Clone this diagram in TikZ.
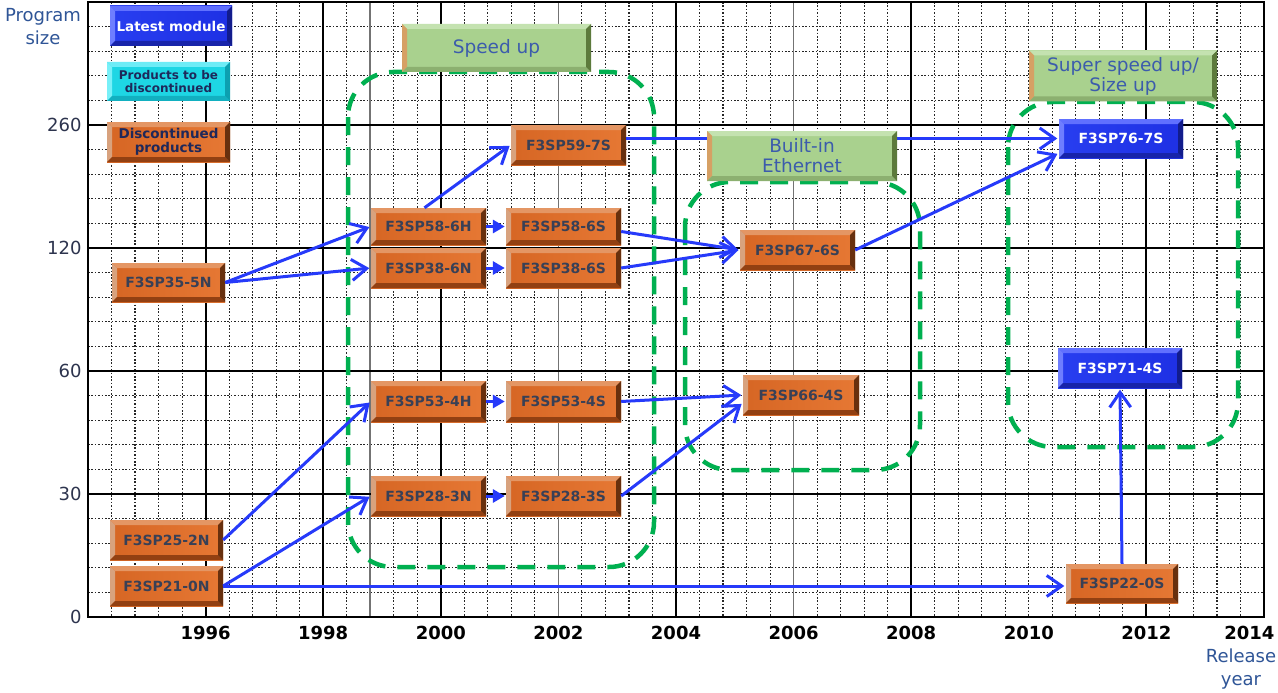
\documentclass[tikz,border=0pt]{standalone}
\usepackage{fontspec}
\setmainfont{DejaVu Sans}
\usetikzlibrary{arrows.meta}
\definecolor{arrowblue}{RGB}{38,58,250}
\definecolor{dashgreen}{RGB}{0,176,80}
\definecolor{boxtext}{RGB}{56,64,86}
\definecolor{axistext}{RGB}{47,85,151}
\definecolor{ticktext}{RGB}{45,52,78}
\definecolor{orA}{RGB}{214,102,36}
\definecolor{orB}{RGB}{246,164,104}
\definecolor{orC}{RGB}{230,120,52}
\definecolor{orTop}{RGB}{228,150,100}
\definecolor{orLeft}{RGB}{216,162,126}
\definecolor{orBot}{RGB}{146,64,18}
\definecolor{orRight}{RGB}{104,48,14}
\definecolor{blA}{RGB}{30,48,228}
\definecolor{blB}{RGB}{40,62,240}
\definecolor{blTop}{RGB}{96,112,255}
\definecolor{blLeft}{RGB}{110,126,255}
\definecolor{blBot}{RGB}{24,36,170}
\definecolor{blRight}{RGB}{18,28,140}
\definecolor{cyA}{RGB}{30,214,228}
\definecolor{cyTop}{RGB}{110,236,246}
\definecolor{cyLeft}{RGB}{120,240,248}
\definecolor{cyBot}{RGB}{18,176,192}
\definecolor{cyRight}{RGB}{12,160,176}
\definecolor{grA}{RGB}{169,209,142}
\definecolor{grTop}{RGB}{196,226,176}
\definecolor{grLeft}{RGB}{214,160,100}
\definecolor{grBot}{RGB}{140,176,112}
\definecolor{grRight}{RGB}{92,122,60}
\definecolor{gltext}{RGB}{60,92,172}
\definecolor{legtext}{RGB}{30,40,90}
\newcommand\bevelfour[4]{%
  \fill[#1] (path picture bounding box.north west) -- (path picture bounding box.north east) -- ([xshift=-5pt,yshift=-5pt]path picture bounding box.north east) -- ([xshift=5pt,yshift=-5pt]path picture bounding box.north west) -- cycle;
  \fill[#2] (path picture bounding box.north west) -- ([xshift=5pt,yshift=-5pt]path picture bounding box.north west) -- ([xshift=5pt,yshift=5pt]path picture bounding box.south west) -- (path picture bounding box.south west) -- cycle;
  \fill[#3] (path picture bounding box.south west) -- ([xshift=5pt,yshift=5pt]path picture bounding box.south west) -- ([xshift=-5pt,yshift=5pt]path picture bounding box.south east) -- (path picture bounding box.south east) -- cycle;
  \fill[#4] (path picture bounding box.south east) -- ([xshift=-5pt,yshift=5pt]path picture bounding box.south east) -- ([xshift=-5pt,yshift=-5pt]path picture bounding box.north east) -- (path picture bounding box.north east) -- cycle;
}
\tikzset{
  minorgrid/.style={draw=black!85, line width=1.1pt, dash pattern=on 1.6pt off 1.8pt},
  majorgrid/.style={draw=black, line width=2pt},
  graygrid/.style={draw=black!55, line width=1.6pt},
  basebox/.style={rectangle, inner sep=0pt, minimum width=115pt, minimum height=40pt},
  obox/.style={basebox, left color=orA, middle color=orB, right color=orC,
    path picture={\bevelfour{orTop}{orLeft}{orBot}{orRight}},
    text=boxtext, font=\bfseries\fontsize{14}{16}\selectfont},
  bbox/.style={basebox, left color=blB, right color=blA,
    path picture={\bevelfour{blTop}{blLeft}{blBot}{blRight}},
    text=white, font=\bfseries\fontsize{14}{16}\selectfont},
  cbox/.style={basebox, fill=cyA,
    path picture={\bevelfour{cyTop}{cyLeft}{cyBot}{cyRight}},
    text=legtext, align=center, font=\bfseries\fontsize{12}{13}\selectfont},
  gbox/.style={rectangle, inner sep=0pt, fill=grA,
    path picture={\bevelfour{grTop}{grLeft}{grBot}{grRight}},
    text=gltext, align=center, font=\fontsize{18.5}{20}\selectfont},
  region/.style={draw=dashgreen, line width=4.5pt, dash pattern=on 18pt off 12pt, rounded corners=45pt},
  arr/.style={draw=arrowblue, line width=3pt, shorten >=1.5pt, -{Straight Barb[length=15pt,width=21pt]}},
  sarr/.style={draw=arrowblue, line width=3pt, shorten >=1pt, -{Triangle[length=12pt,width=13pt]}},
  yrlab/.style={font=\bfseries\fontsize{18}{20}\selectfont, text=black, anchor=base},
  ylab/.style={font=\fontsize{18}{20}\selectfont, text=ticktext, anchor=east},
  axlab/.style={font=\fontsize{18}{23}\selectfont, text=axistext, align=center},
}
\begin{document}
\begin{tikzpicture}[x=1pt,y=-1pt]
\useasboundingbox (0,0) rectangle (1278,693);
\fill[white] (0,0) rectangle (1278,693);
% minor grid
\foreach \i in {1,...,49} \draw[minorgrid] ({88+\i*23.52},2) -- ({88+\i*23.52},617);
\foreach \j in {1,...,24} \draw[minorgrid] (88,{617-\j*24.6}) -- (1264,{617-\j*24.6});
% extra gray line
\draw[graygrid] (370.2,2) -- (370.2,617);
% major grid
\foreach \i/\st in {5/majorgrid,10/majorgrid,15/majorgrid,20/graygrid,25/majorgrid,30/graygrid,35/majorgrid,45/majorgrid}
  \draw[\st] ({88+\i*23.52},2) -- ({88+\i*23.52},617);
\foreach \j in {5,10,15,20} \draw[majorgrid] (88,{617-\j*24.6}) -- (1264,{617-\j*24.6});
\draw[black, line width=2.4pt] (88,2) rectangle (1264,617);
% axis labels
\foreach \yr in {1996,1998,2000,2002,2004,2006,2008,2010,2012}
  \node[yrlab] (yr\yr) at ({88+(\yr-1994)*58.8},639) {\yr};
\node[yrlab, anchor=base east] (yr2014) at (1278,639) {2014};
\node[ylab] (y0) at (85,617) {0};
\node[ylab] (y30) at (85,494) {30};
\node[ylab] (y60) at (85,371) {60};
\node[ylab] (y120) at (85,248) {120};
\node[ylab] (y260) at (85,125) {260};
\node[axlab] (progsize) at (43,27) {Program\\size};
\node[axlab] (relyear) at (1241,669) {Release\\year};
% regions
\draw[region] (348,72) rectangle (654,567);
\draw[region] (685,182) rectangle (920,470);
\draw[region] (1008,102) rectangle (1238,447);
% legend
\node[bbox, minimum width=122pt, minimum height=40pt, font=\bfseries\fontsize{13.5}{15}\selectfont] (legnew) at (171,26) {Latest module};
\node[cbox, minimum width=123pt, minimum height=39pt] (legcyan) at (168.5,81.5) {Products to be\\discontinued};
\node[obox, minimum width=123pt, minimum height=40pt, align=center, text=legtext, font=\bfseries\fontsize{13.5}{14.5}\selectfont] (legold) at (168.5,142) {Discontinued\\products};
% product boxes
\node[obox, minimum width=113pt, minimum height=39pt] (f355n) at (168.5,282.5) {F3SP35-5N};
\node[obox, minimum height=37pt] (f586h) at (428.5,226.5) {F3SP58-6H};
\node[obox] (f386n) at (428.5,268) {F3SP38-6N};
\node[obox, minimum height=37pt] (f586s) at (563.5,226.5) {F3SP58-6S};
\node[obox] (f386s) at (563.5,268) {F3SP38-6S};
\node[obox] (f597s) at (568.5,145) {F3SP59-7S};
\node[obox] (f676s) at (797.5,250) {F3SP67-6S};
\node[bbox, minimum width=124pt, minimum height=39pt] (f767s) at (1121,138.5) {F3SP76-7S};
\node[obox, minimum height=41pt] (f534h) at (428.5,401.5) {F3SP53-4H};
\node[obox, minimum height=41pt] (f534s) at (563.5,401.5) {F3SP53-4S};
\node[obox, minimum width=116pt] (f664s) at (801,395) {F3SP66-4S};
\node[obox] (f283n) at (428.5,496) {F3SP28-3N};
\node[obox] (f283s) at (563.5,496) {F3SP28-3S};
\node[obox, minimum width=113pt] (f252n) at (166.5,540) {F3SP25-2N};
\node[obox, minimum width=113pt] (f210n) at (166.5,586) {F3SP21-0N};
\node[obox, minimum width=112pt, minimum height=39pt] (f220s) at (1122,583.5) {F3SP22-0S};
\node[bbox, minimum width=124pt] (f714s) at (1120,368) {F3SP71-4S};
% connectors
\draw[arr] (f355n.east) -- (f586h.west);
\draw[arr] (f355n.east) -- (f386n.west);
\draw[sarr] (f586h.east) -- (f586s.west);
\draw[sarr] (f386n.east) -- (f386s.west);
\draw[arr] ([xshift=-4pt]f586h.north) -- (f597s.west);
\draw[arr] ([yshift=-5pt]f586s.east) -- (f676s.west);
\draw[arr] (f386s.east) -- (f676s.west);
\draw[arr] (f597s.east |- f767s.west) -- (f767s.west);
\draw[arr] (f676s.east) -- ([yshift=5pt]f767s.south west);
\draw[sarr] (f534h.east) -- (f534s.west);
\draw[arr] (f534s.east) -- (f664s.west);
\draw[sarr] (f283n.east) -- (f283s.west);
\draw[arr] (f283s.east) -- ([yshift=-8pt]f664s.west);
\draw[arr] (f252n.east) -- (f534h.west);
\draw[arr] (f210n.east) -- (f283n.west);
\draw[arr] (f210n.east) -- (f220s.west |- f210n.east);
\draw[arr] (f220s.north) -- (f714s.south);
% green labels (over the arrows)
\node[gbox, minimum width=189pt, minimum height=48pt] (speedup) at (496.5,48) {Speed up};
\node[gbox, minimum width=190pt, minimum height=50pt] (ether) at (802,156) {Built-in\\Ethernet};
\node[gbox, minimum width=188pt, minimum height=51pt] (super) at (1123,76) {Super speed up/\\Size up};
\end{tikzpicture}
\end{document}
